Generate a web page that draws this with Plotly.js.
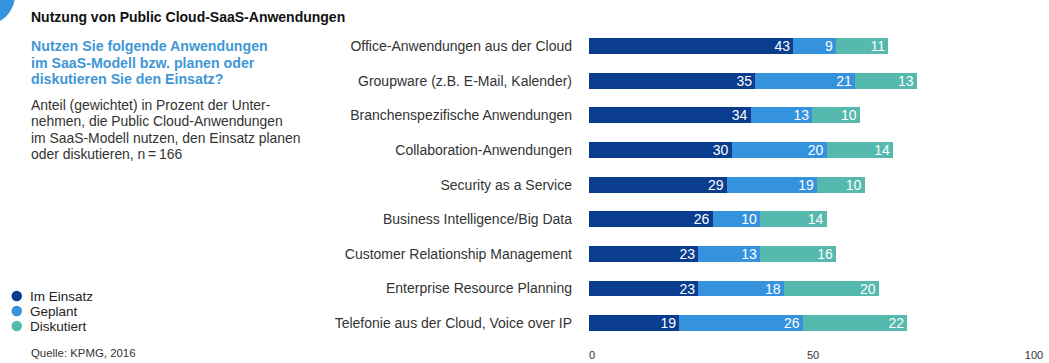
<!DOCTYPE html>
<html><head><meta charset="utf-8">
<script src="https://cdn.plot.ly/plotly-3.0.1.min.js"></script>
<style>html,body{margin:0;padding:0;background:#fff}#chart{width:1049px;height:363px}</style>
</head><body><div id="chart"></div>
<script>
const categories = [
  "Office-Anwendungen aus der Cloud",
  "Groupware (z.B. E-Mail, Kalender)",
  "Branchenspezifische Anwendungen",
  "Collaboration-Anwendungen",
  "Security as a Service",
  "Business Intelligence/Big Data",
  "Customer Relationship Management",
  "Enterprise Resource Planning",
  "Telefonie aus der Cloud, Voice over IP"
];
const imEinsatz = [43, 35, 34, 30, 29, 26, 23, 23, 19];
const geplant   = [9, 21, 13, 20, 19, 10, 13, 18, 26];
const diskutiert= [11, 13, 10, 14, 10, 14, 16, 20, 22];
const seriesNames = ["Im Einsatz", "Geplant", "Diskutiert"];
const colors = ["#0b3d8f", "#3592dc", "#55b9ad"];
const axisTicks = [0, 50, 100];

const W = 1049, H = 363;
const px = x => x / W, py = y => 1 - y / H;
const FONT = "Liberation Sans, Arial, Helvetica, sans-serif";

const series = [imEinsatz, geplant, diskutiert];
const traces = series.map((vals, i) => ({
  type: 'bar', orientation: 'h', name: seriesNames[i],
  x: vals, y: categories,
  marker: {color: colors[i], line: {width: 0}},
  text: vals.map(String), textposition: 'inside', insidetextanchor: 'end', textangle: 0,
  textfont: {color: '#ffffff', size: 14, family: FONT},
  constraintext: 'none', cliponaxis: false,
  showlegend: false, hoverinfo: 'x+y'
}));
traces.push({type: 'scatter', x: [], y: [], xaxis: 'x2', yaxis: 'y', showlegend: false, hoverinfo: 'skip'});

const base = {xref: 'paper', yref: 'paper', xanchor: 'left', yanchor: 'middle', align: 'left', showarrow: false};
const annotations = [];
function addLines(lines, x, y0, dy, font) {
  lines.forEach((t, i) => annotations.push(Object.assign({}, base, {text: t, x: px(x), y: py(y0 + i * dy), font: font})));
}
addLines(["<b>Nutzung von Public Cloud-SaaS-Anwendungen</b>"], 29, 17, 0, {size: 14, color: '#111'});
addLines(["<b>Nutzen Sie folgende Anwendungen</b>", "<b>im SaaS-Modell bzw. planen oder</b>", "<b>diskutieren Sie den Einsatz?</b>"], 29, 46, 16.5, {size: 14.2, color: '#3f97d6'});
addLines(["Anteil (gewichtet) in Prozent der Unter-", "nehmen, die Public Cloud-Anwendungen", "im SaaS-Modell nutzen, den Einsatz planen", "oder diskutieren, n\u2009=\u2009166"], 29, 105, 16.3, {size: 13.9, color: '#333'});
addLines(["Quelle: KPMG, 2016"], 29, 353, 0, {size: 11.4, color: '#333'});

const shapes = [{type: 'circle', xref: 'paper', yref: 'paper', x0: px(-45), x1: px(15), y0: py(25), y1: py(-35), fillcolor: '#3592dc', line: {width: 0}}];
const legendY = [296, 311, 326];
seriesNames.forEach((n, i) => {
  shapes.push({type: 'circle', xref: 'paper', yref: 'paper', x0: px(11.5), x1: px(22), y0: py(legendY[i] + 5.25), y1: py(legendY[i] - 5.25), fillcolor: colors[i], line: {width: 0}});
  annotations.push(Object.assign({}, base, {text: n, x: px(28), y: py(legendY[i]), font: {size: 13.5, color: '#222'}}));
});

const layout = {
  width: W, height: H, margin: {l: 0, r: 0, t: 0, b: 0},
  paper_bgcolor: '#fff', plot_bgcolor: 'rgba(0,0,0,0)',
  font: {family: FONT, color: '#333'},
  barmode: 'stack', bargap: 0.54,
  xaxis: {domain: [px(589), px(1036)], range: [0, (1036 - 589) / 4.75], showgrid: false, zeroline: false, showticklabels: false, ticks: '', fixedrange: true},
  xaxis2: {domain: [px(592), px(1034)], range: [0, 100], anchor: 'y', tickvals: axisTicks, ticktext: axisTicks.map(String), showgrid: false, zeroline: false, ticks: '', tickfont: {size: 11, color: '#333'}, ticklabelstandoff: 6, showline: false},
  yaxis: {domain: [py(340.5), py(28.7)], type: 'category', autorange: 'reversed', showgrid: false, zeroline: false, ticks: '', ticklabelstandoff: 16, tickfont: {size: 14, color: '#333'}},
  annotations: annotations, shapes: shapes, showlegend: false
};

Plotly.newPlot('chart', traces, layout, {displayModeBar: false, staticPlot: true});
</script></body></html>
